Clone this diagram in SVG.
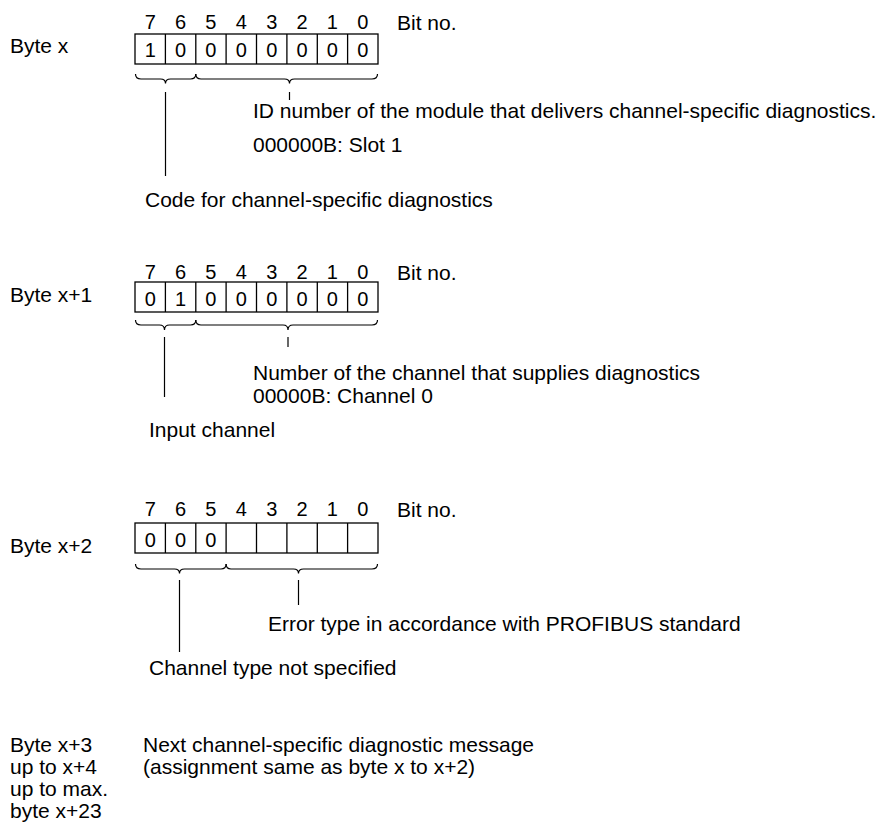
<svg xmlns="http://www.w3.org/2000/svg" width="886" height="826" viewBox="0 0 886 826">
<style>
text{font-family:"Liberation Sans",Arial,sans-serif;font-size:21px;fill:#000}
.d{font-size:20px;text-anchor:middle}
.box{fill:#fff;stroke:#000;stroke-width:1.3}
.div{stroke:#000;stroke-width:1.3}
.br{fill:none;stroke:#000;stroke-width:1.2}
.ln{stroke:#000;stroke-width:1.2}
</style>
<rect width="886" height="826" fill="#fff"/>
<defs>
<g id="cells">
<rect class="box" x="135" y="0" width="243" height="30"/>
<line class="div" x1="165.4" y1="0" x2="165.4" y2="30"/>
<line class="div" x1="195.8" y1="0" x2="195.8" y2="30"/>
<line class="div" x1="226.1" y1="0" x2="226.1" y2="30"/>
<line class="div" x1="256.5" y1="0" x2="256.5" y2="30"/>
<line class="div" x1="286.9" y1="0" x2="286.9" y2="30"/>
<line class="div" x1="317.3" y1="0" x2="317.3" y2="30"/>
<line class="div" x1="347.6" y1="0" x2="347.6" y2="30"/>
</g>
<g id="bits">
<text class="d" x="150.2">7</text><text class="d" x="180.6">6</text><text class="d" x="210.9">5</text><text class="d" x="241.3">4</text>
<text class="d" x="271.7">3</text><text class="d" x="302.1">2</text><text class="d" x="332.4">1</text><text class="d" x="362.8">0</text>
<text x="397" y="1">Bit no.</text>
</g>
</defs>

<g id="byte-x">
<text x="10" y="53">Byte x</text>
<use href="#bits" y="29"/>
<use href="#cells" y="34"/>
<g class="vals">
<text class="d" x="150.2" y="57">1</text><text class="d" x="180.6" y="57">0</text><text class="d" x="210.9" y="57">0</text><text class="d" x="241.3" y="57">0</text>
<text class="d" x="271.7" y="57">0</text><text class="d" x="302.1" y="57">0</text><text class="d" x="332.4" y="57">0</text><text class="d" x="362.8" y="57">0</text>
</g>
<text x="253" y="118">ID number of the module that delivers channel-specific diagnostics.</text>
<text x="253" y="152">000000B: Slot 1</text>
<text x="145" y="207">Code for channel-specific diagnostics</text>
</g>

<g id="byte-x1">
<text x="10" y="302">Byte x+1</text>
<use href="#bits" y="278.5"/>
<use href="#cells" y="282"/>
<g class="vals">
<text class="d" x="150.2" y="305.5">0</text><text class="d" x="180.6" y="305.5">1</text><text class="d" x="210.9" y="305.5">0</text><text class="d" x="241.3" y="305.5">0</text>
<text class="d" x="271.7" y="305.5">0</text><text class="d" x="302.1" y="305.5">0</text><text class="d" x="332.4" y="305.5">0</text><text class="d" x="362.8" y="305.5">0</text>
</g>
<text x="253" y="380">Number of the channel that supplies diagnostics</text>
<text x="253" y="403">00000B: Channel 0</text>
<text x="149" y="437">Input channel</text>
</g>

<g id="byte-x2">
<text x="10" y="553">Byte x+2</text>
<use href="#bits" y="516"/>
<use href="#cells" y="523"/>
<g class="vals">
<text class="d" x="150.2" y="546.5">0</text><text class="d" x="180.6" y="546.5">0</text><text class="d" x="210.9" y="546.5">0</text>
</g>
<text x="268" y="630.5">Error type in accordance with PROFIBUS standard</text>
<text x="149" y="675">Channel type not specified</text>
</g>

<g id="byte-x3">
<text x="10" y="752">Byte x+3</text>
<text x="10" y="774">up to x+4</text>
<text x="10" y="796">up to max.</text>
<text x="10" y="818">byte x+23</text>
<text x="143" y="752">Next channel-specific diagnostic message</text>
<text x="143" y="774">(assignment same as byte x to x+2)</text>
</g>

<g id="connectors">
<path class="br" d="M135.5,74 Q135.5,79 141,79 L160.5,79 Q165.5,79 165.5,83.5 Q165.5,79 170.5,79 L190.5,79 Q195.8,79 195.8,74"/>
<path class="br" d="M195.8,74 Q195.8,79 201,79 L284.5,79 Q289.5,79 289.5,83.5 Q289.5,79 294.5,79 L372,79 Q377.5,79 377.5,74"/>
<line class="ln" x1="165.5" y1="92" x2="165.5" y2="176"/>
<line class="ln" x1="289.5" y1="92" x2="289.5" y2="100"/>

<path class="br" d="M135.5,320 Q135.5,325 141,325 L159.5,325 Q164.5,325 164.5,330 Q164.5,325 169.5,325 L190.5,325 Q195.8,325 195.8,320"/>
<path class="br" d="M195.8,320 Q195.8,325 201,325 L283,325 Q288,325 288,330 Q288,325 293,325 L372,325 Q377.5,325 377.5,320"/>
<line class="ln" x1="164.5" y1="337" x2="164.5" y2="397"/>
<line class="ln" x1="288" y1="337" x2="288" y2="347"/>

<path class="br" d="M135.5,564 Q135.5,569 141,569 L174.5,569 Q179.5,569 179.5,573.5 Q179.5,569 184.5,569 L221,569 Q226.1,569 226.1,564"/>
<path class="br" d="M226.1,564 Q226.1,569 231,569 L293.5,569 Q298.5,569 298.5,573.5 Q298.5,569 303.5,569 L372,569 Q377.5,569 377.5,564"/>
<line class="ln" x1="179.5" y1="580" x2="179.5" y2="652"/>
<line class="ln" x1="298.5" y1="580" x2="298.5" y2="605"/>
</g>
</svg>
